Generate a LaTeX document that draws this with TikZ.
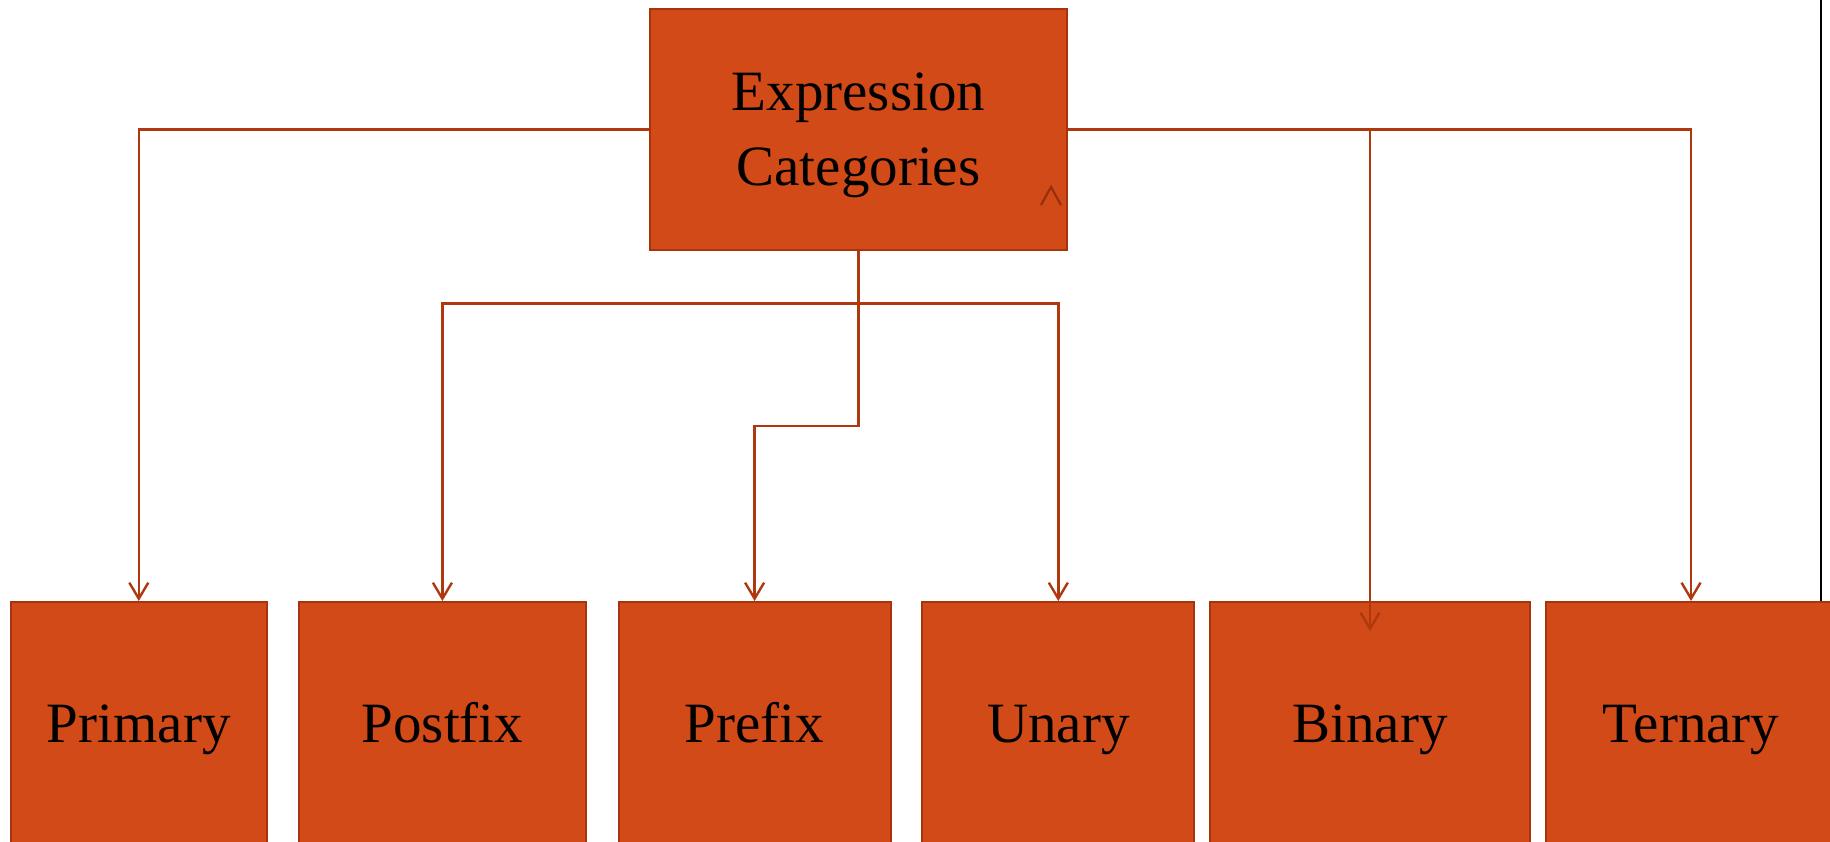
\documentclass[tikz,border=0pt]{standalone}
\usepackage{fontspec}
\setmainfont{Liberation Serif}
\usetikzlibrary{arrows.meta}
\definecolor{boxfill}{HTML}{D14A17}
\definecolor{boxline}{HTML}{A8340E}
\definecolor{connline}{HTML}{B0380F}
\tikzset{
  catbox/.style={draw=boxline, line width=2pt, fill=boxfill, rectangle, inner sep=0pt,
    minimum height=241pt, font=\fontsize{57}{77}\selectfont, text=black,
    text height=40pt, text depth=0pt},
  topbox/.style={draw=boxline, line width=2pt, fill=boxfill, rectangle, inner sep=0pt,
    minimum width=417pt, minimum height=240.5pt, align=center,
    font=\fontsize{57}{75}\selectfont, text=black, text height=111pt, text depth=0pt},
  conn/.style={draw=connline, line width=2.4pt, -{Straight Barb[length=16pt,width=19pt,line width=2.4pt]}},
}
\begin{document}
\begin{tikzpicture}[x=1pt,y=-1pt]
\useasboundingbox (0,0) rectangle (1830,841);
\clip (0,0) rectangle (1830,841);
\fill[white] (0,0) rectangle (1830,841);

\node[topbox] (top) at (858.5,129.5) {Expression\\Categories};

\node[catbox, minimum width=256.5pt] (primary) at (138.8,722.5) {Primary};
\node[catbox, minimum width=287pt]   (postfix) at (442.4,722.5) {Postfix};
\node[catbox, minimum width=272pt]   (prefix)  at (754.6,722.5) {Prefix};
\node[catbox, minimum width=272pt]   (unary)   at (1058.3,722.5) {Unary};
\node[catbox, minimum width=320pt]   (binary)  at (1370,722.5) {Binary};
\node[catbox, minimum width=290pt]   (ternary) at (1691,722.5) {Ternary};

\coordinate (j1) at (858.5,303.5);
\coordinate (j2) at (858.5,426);
\coordinate (bend) at (1370,631);

\draw[conn] (top.west) -| (primary.north);
\draw[conn] (top.south) -- (j1) -| (postfix.north);
\draw[conn] (j1) -| (unary.north);
\draw[conn] (top.south) -- (j2) -| (prefix.north);
\draw[conn] (top.east) -| (bend);
\draw[conn] (top.east) -| (ternary.north);

% stray arrowhead inside the top box
\draw[draw=boxline!90!black, line width=2.2pt] (1041,205) -- (1051,187) -- (1061,205);

% black vertical line at right edge
\coordinate (vtop) at (1821,0);
\draw[black, line width=2.2pt] (vtop) -- (vtop |- ternary.north);
\end{tikzpicture}
\end{document}
